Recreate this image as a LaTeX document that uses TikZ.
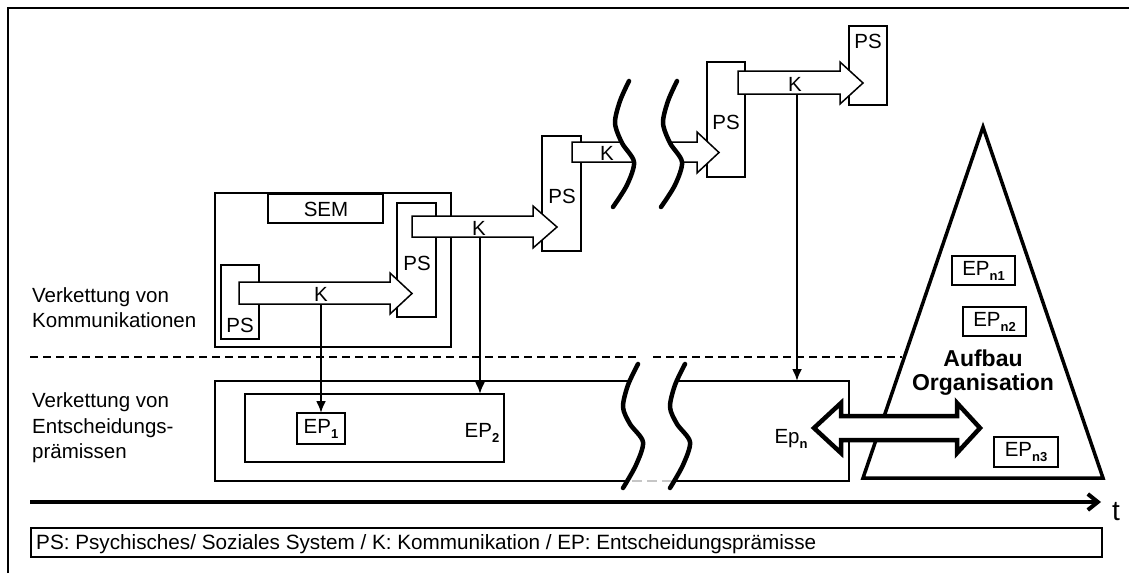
\documentclass[tikz,border=0pt]{standalone}
\usepackage{fontspec}
\setmainfont{Liberation Sans}
\usetikzlibrary{arrows.meta}
\newcommand\rectnode[5]{\node[box, minimum width={#4-#2}, minimum height={#5-#3}] (#1) at ({(#2+#4)/2},{(#3+#5)/2}) {};}
\newcommand\fatarrow[7]{\draw[arrowshape] (#1,#4) -- (#2,#4) -- (#2,#6) -- (#3,{(#6+#7)/2}) -- (#2,#7) -- (#2,#5) -- (#1,#5) -- cycle;}
\newcommand\sbold[1]{\raisebox{-5pt}{\fontsize{13}{13}\selectfont\bfseries #1}}
\begin{document}
\begin{tikzpicture}[x=1pt,y=-1pt,
  box/.style={draw, line width=1.5pt, fill=white, inner sep=0pt, outer sep=0pt},
  arrowshape/.style={draw, fill=white, line width=1.5pt, line join=miter},
  txt/.style={font=\fontsize{20.5}{24}\selectfont, inner sep=0pt},
  btxt/.style={font=\fontsize{23}{27}\selectfont\bfseries, inner sep=0pt},
  conn/.style={line width=2.2pt, -{Latex[length=12pt,width=10pt]}},
  squig/.style={line width=4.5pt, line cap=round, line join=round},
  sepline/.style={line width=1.2pt, dash pattern=on 8pt off 5pt},
]
\useasboundingbox (0,0) rectangle (1129,573);
% outer frame
\draw[line width=2.5pt] (8,573) -- (8,8) -- (1129,8);
% separator
\draw[sepline] (30,357) -- (640,357);
\draw[sepline] (653,357) -- (902,357);
% left labels
\node[txt, anchor=base west] (l1) at (32,302) {Verkettung von};
\node[txt, anchor=base west] (l2) at (32,327) {Kommunikationen};
\node[txt, anchor=base west] (l3) at (32,407) {Verkettung von};
\node[txt, anchor=base west] (l4) at (32,433) {Entscheidungs-};
\node[txt, anchor=base west] (l5) at (32,458) {prämissen};
% upper boxes
\rectnode{semouter}{215}{193}{451}{347}
\rectnode{sem}{268}{194}{383}{223}
\node[txt] (semt) at (326,209) {SEM};
\rectnode{ps1}{221}{265}{259}{339}
\rectnode{ps2}{397}{203}{436}{317}
\rectnode{ps3}{542}{136}{581}{251}
\rectnode{ps4}{707}{62}{745}{177}
\rectnode{ps5}{849}{26}{887}{105}
\node[txt] (ps1t) at (240,325) {PS};
\node[txt] (ps2t) at (417,263) {PS};
\node[txt] (ps3t) at (562,196) {PS};
\node[txt] (ps4t) at (726,122) {PS};
\node[txt] (ps5t) at (868,41) {PS};
% communication arrows
\fatarrow{239}{390}{412}{282}{304}{273}{314}
\fatarrow{412}{533}{557}{216}{237}{206}{248}
\fatarrow{572}{697}{719}{142}{162}{132}{173}
\fatarrow{738}{840}{863}{71}{94}{62}{104}
\node[txt] (k1) at (321,294) {K};
\node[txt] (k2) at (479,228) {K};
\node[txt] (k3) at (607,153) {K};
\node[txt] (k4) at (795,84) {K};
\coordinate (k1b) at (321,304);
\coordinate (k2b) at (480,237);
\coordinate (k4b) at (797,94);
% lower boxes
\rectnode{big}{215}{381}{849}{481}
\rectnode{inner}{245}{394}{504}{462}
\rectnode{ep1}{297}{413}{345}{444}
\node[txt] (ep1t) at (ep1.center) {EP\sbold{1}};
\node[txt, anchor=base] (ep2t) at (482,437) {EP\sbold{2}};
\node[txt, anchor=base] (epnt) at (791,443) {Ep\sbold{n}};
% connectors
\draw[conn] (k1b) -- (ep1.north);
\draw[conn] (k2b) -- (k2b |- inner.north);
\draw[conn] (k4b) -- (k4b |- big.north);
% upper break
\fill[white] plot[smooth] coordinates {(629,81) (620,101) (615,123) (622,143) (634,162) (627,185) (613,207)}
  -- plot[smooth] coordinates {(661,207) (675,185) (682,162) (670,143) (663,123) (668,101) (677,81)} -- cycle;
\draw[squig] plot[smooth] coordinates {(629,81) (620,101) (615,123) (622,143) (634,162) (627,185) (613,207)};
\draw[squig] plot[smooth] coordinates {(677,81) (668,101) (663,123) (670,143) (682,162) (675,185) (661,207)};
% lower break
\fill[white] plot[smooth] coordinates {(638,364) (628,385) (623,407) (630,424) (643,442) (636,465) (623,488)}
  -- plot[smooth] coordinates {(670,488) (683,465) (690,442) (677,424) (670,407) (675,385) (685,364)} -- cycle;
\draw[gray!45, line width=1.2pt, dash pattern=on 10pt off 5pt] (632,481) -- (672,481);
\draw[squig] plot[smooth] coordinates {(638,364) (628,385) (623,407) (630,424) (643,442) (636,465) (623,488)};
\draw[squig] plot[smooth] coordinates {(685,364) (675,385) (670,407) (677,424) (690,442) (683,465) (670,488)};
% organisation triangle
\draw[line width=3.5pt, fill=white, line join=miter] (983,127) coordinate (apex) -- (1103,478) coordinate (br) -- (863,478) coordinate (bl) -- cycle;
\rectnode{epn1}{952}{256}{1015}{285}
\rectnode{epn2}{963}{307}{1026}{336}
\rectnode{epn3}{994}{437}{1058}{467}
\node[txt] (epn1t) at (epn1.center) {EP\sbold{n1}};
\node[txt] (epn2t) at (epn2.center) {EP\sbold{n2}};
\node[txt] (epn3t) at (epn3.center) {EP\sbold{n3}};
\node[btxt] (auf) at (983,358) {Aufbau};
\node[btxt] (org) at (983,385) {Organisation};
% double arrow
\draw[line width=4.5pt, fill=white, line join=miter] (814,428) -- (841,403) -- (841,416) -- (957,416) -- (957,403) -- (980,428) -- (957,453) -- (957,440) -- (841,440) -- (841,453) -- cycle;
% time axis
\coordinate (axl) at (30,502);
\coordinate (axr) at (1101,502);
\draw[line width=4pt, -{Straight Barb[length=10pt,width=16pt]}] (axl) -- (axr);
\node[font=\fontsize{28}{30}\selectfont, inner sep=0pt] (t) at (1116,512) {t};
% legend
\rectnode{legend}{31}{528}{1102}{557}
\node[font=\fontsize{20.7}{24}\selectfont, inner sep=0pt, anchor=base west] (legt) at (36,549) {PS: Psychisches/ Soziales System / K: Kommunikation / EP: Entscheidungsprämisse};
\end{tikzpicture}
\end{document}
